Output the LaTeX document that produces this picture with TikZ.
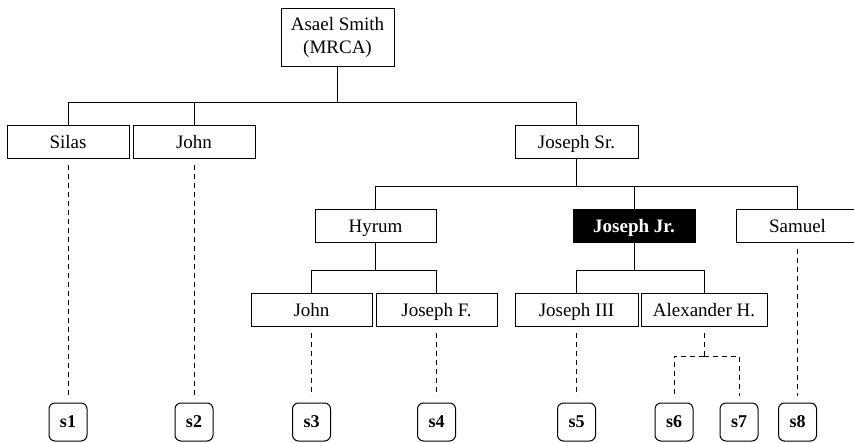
\documentclass[tikz,border=0pt]{standalone}
\usepackage{fontspec}
\setmainfont{Liberation Serif}
\begin{document}
\begin{tikzpicture}[x=1pt,y=-1pt,
  person/.style={draw=black,line width=1pt,inner sep=0pt,minimum height=33pt,text height=14pt,text depth=0pt,font=\fontsize{19}{23}\selectfont},
  focal/.style={person,fill=black,text=white,font=\fontsize{19}{23}\selectfont\bfseries},
  leaf/.style={draw=black,line width=1pt,rounded corners=6pt,minimum width=38pt,minimum height=38pt,inner sep=0pt,text height=11pt,text depth=1pt,font=\fontsize{18}{20}\selectfont\bfseries},
  link/.style={draw=black,line width=1pt},
  dlink/.style={draw=black,line width=1pt,dash pattern=on 5pt off 4pt}]
\useasboundingbox (0,0) rectangle (854,442);
% nodes
\node[person,minimum width=113pt,minimum height=58pt,text height=,text depth=,align=center] (root) at (337.5,37) {Asael Smith\\(MRCA)};
\node[person,minimum width=122pt] (silas) at (68,141.5) {Silas};
\node[person,minimum width=122pt] (john) at (194,141.5) {John};
\node[person,minimum width=123pt] (jsr) at (576.5,141.5) {Joseph Sr.};
\node[person,minimum width=121pt] (hyrum) at (375.5,225.5) {Hyrum};
\node[focal,minimum width=122pt] (jjr) at (634,225.5) {Joseph Jr.};
\node[person,minimum width=123pt] (samuel) at (797.5,225.5) {Samuel};
\node[person,minimum width=121pt] (john2) at (311.5,309.5) {John};
\node[person,minimum width=121pt] (jf) at (436.5,309.5) {Joseph F.};
\node[person,minimum width=123pt] (j3) at (576.5,309.5) {Joseph III};
\node[person,minimum width=126pt] (alex) at (704,309.5) {Alexander H.};
\node[leaf] (s1) at (68,422) {s1};
\node[leaf] (s2) at (194,422) {s2};
\node[leaf] (s3) at (311.5,422) {s3};
\node[leaf] (s4) at (436.5,422) {s4};
\node[leaf] (s5) at (576.5,422) {s5};
\node[leaf] (s6) at (674,422) {s6};
\node[leaf] (s7) at (739,422) {s7};
\node[leaf] (s8) at (797.5,422) {s8};
% bus coordinates
\coordinate (b0) at (337.5,102);
\coordinate (b1) at (576.5,186);
\coordinate (b2) at (375.5,270);
\coordinate (b3) at (634,270);
\coordinate (b4) at (704,356);
% solid connectors
\draw[link] (root.south) -- (b0) -| (silas.north);
\draw[link] (b0) -| (john.north);
\draw[link] (b0) -| (jsr.north);
\draw[link] (jsr.south) -- (b1) -| (hyrum.north);
\draw[link] (b1) -| (jjr.north);
\draw[link] (b1) -| (samuel.north);
\draw[link] (hyrum.south) -- (b2) -| (john2.north);
\draw[link] (b2) -| (jf.north);
\draw[link] (jjr.south) -- (b3) -| (j3.north);
\draw[link] (b3) -| (alex.north);
% dashed connectors
\draw[dlink,shorten <=6pt,shorten >=7pt] (silas.south) -- (s1.north);
\draw[dlink,shorten <=6pt,shorten >=7pt] (john.south) -- (s2.north);
\draw[dlink,shorten <=6pt,shorten >=7pt] (john2.south) -- (s3.north);
\draw[dlink,shorten <=6pt,shorten >=7pt] (jf.south) -- (s4.north);
\draw[dlink,shorten <=6pt,shorten >=7pt] (j3.south) -- (s5.north);
\draw[dlink,shorten <=6pt,shorten >=7pt] (samuel.south) -- (s8.north);
\draw[dlink,shorten <=6pt] (alex.south) -- (b4);
\draw[dlink,shorten >=7pt] (b4) -| (s6.north);
\draw[dlink,shorten >=7pt] (b4) -| (s7.north);
\end{tikzpicture}
\end{document}
